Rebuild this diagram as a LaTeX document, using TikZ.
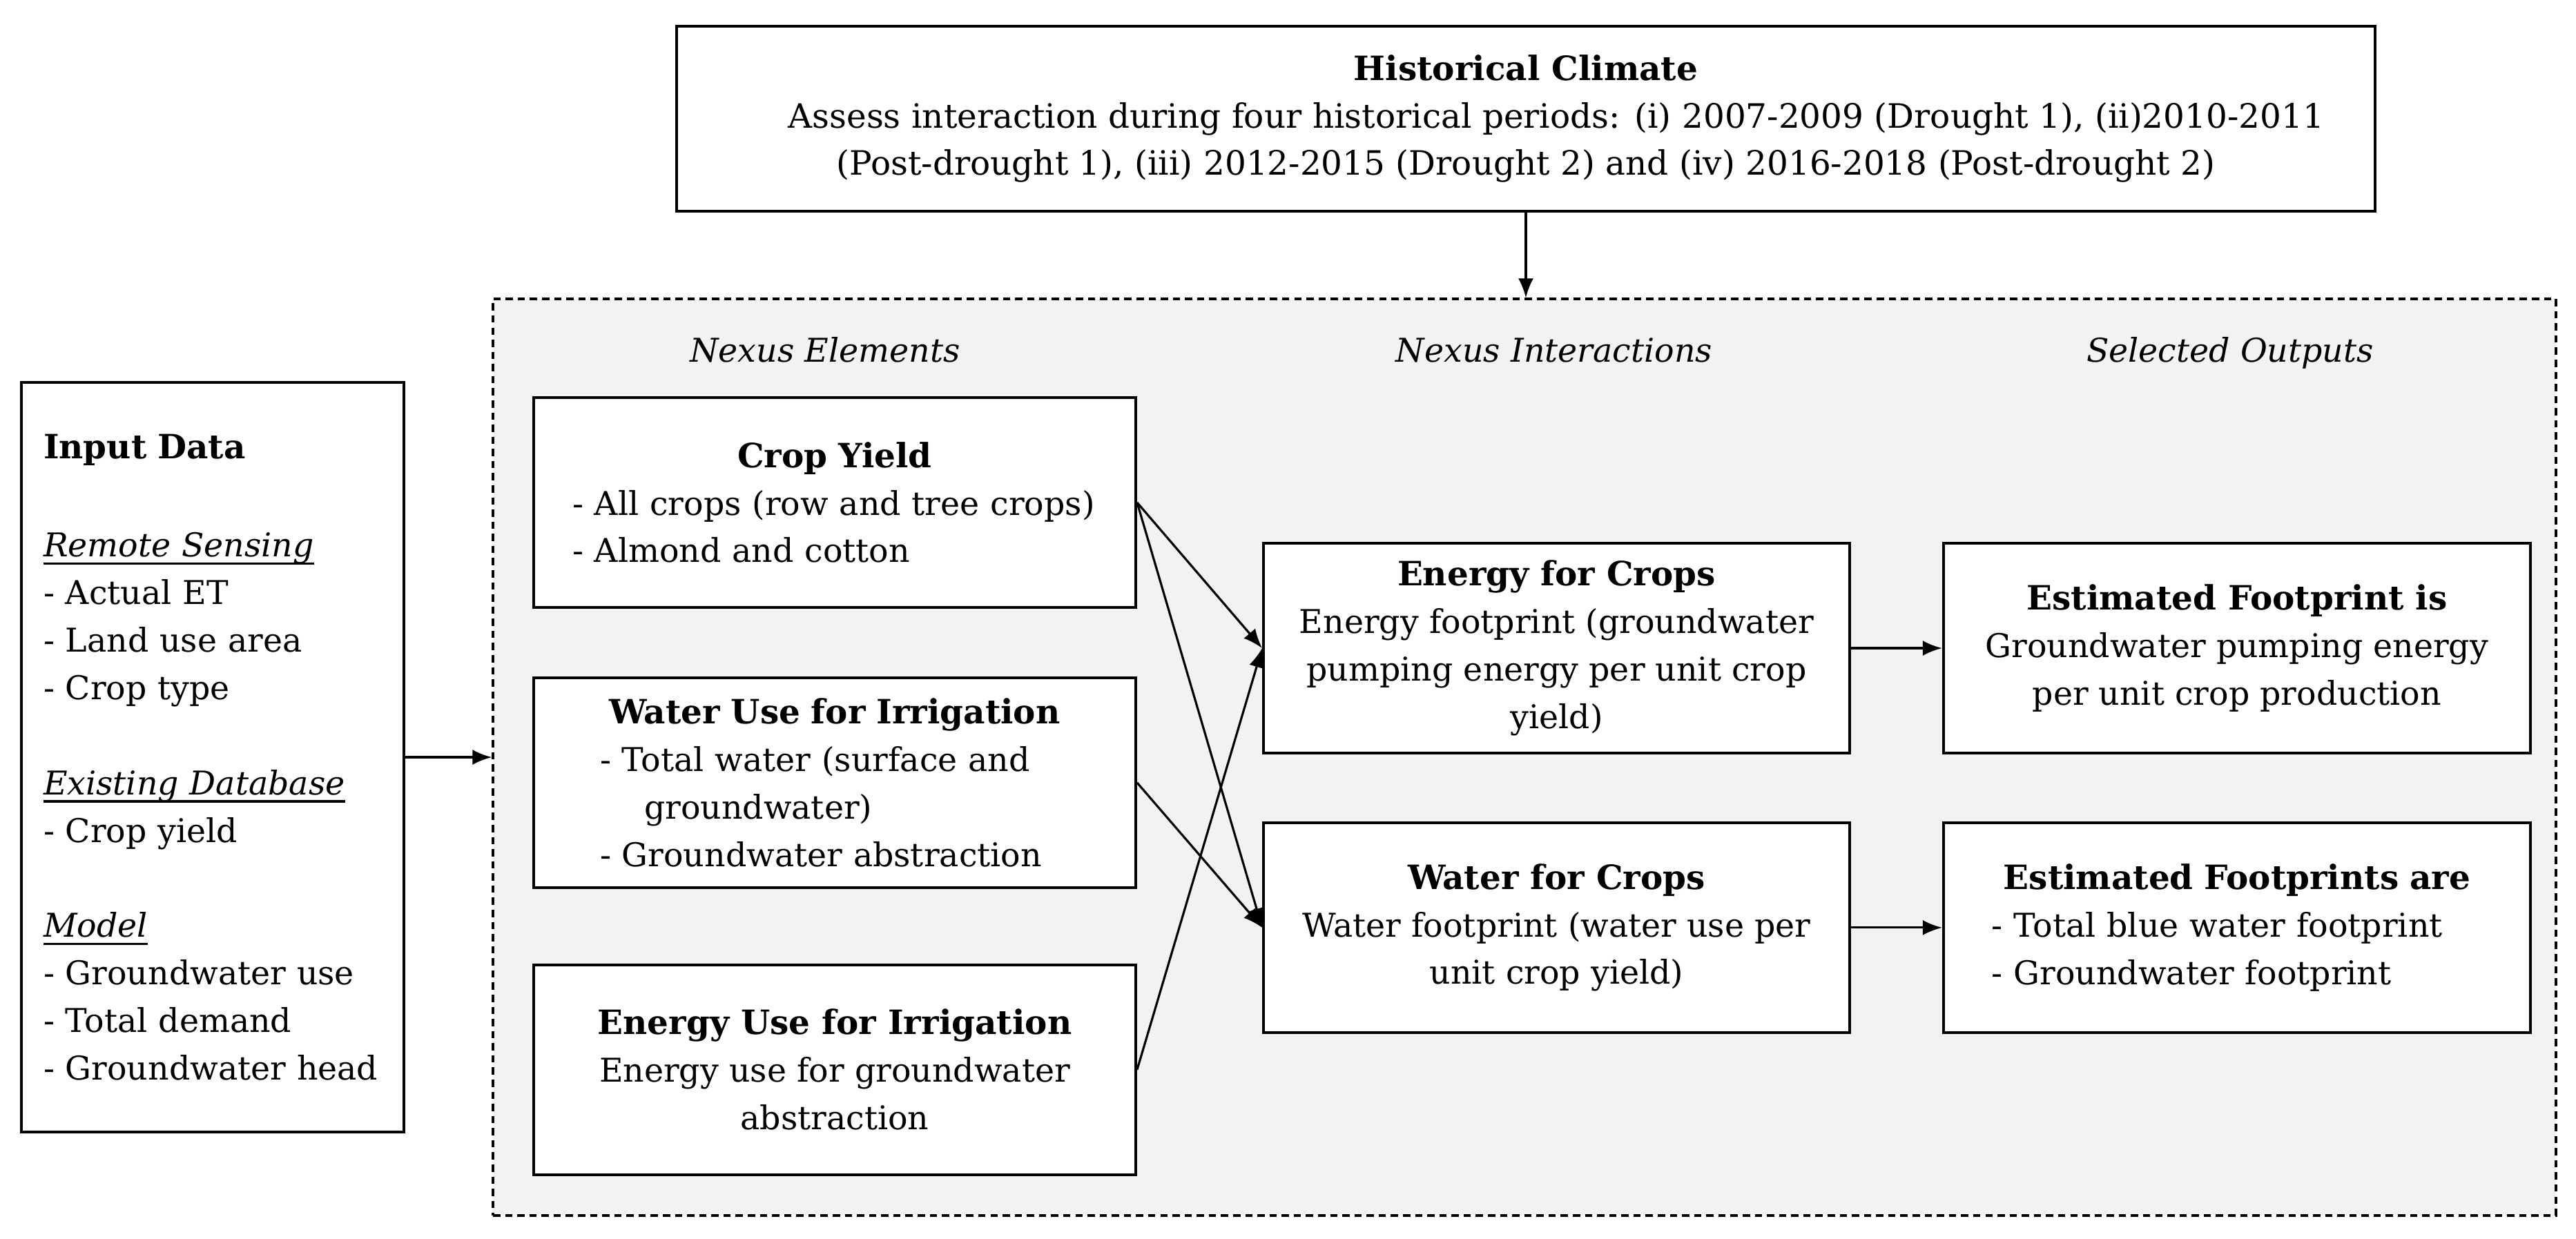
\documentclass[tikz,border=0pt]{standalone}
\usepackage{fontspec}
\setmainfont{DejaVu Serif}
\usetikzlibrary{arrows.meta,positioning}
\definecolor{panelgray}{RGB}{242,242,242}
\newcommand{\bodyfont}{\fontsize{13.5}{19.6}\selectfont}
\newcommand{\headfont}{\fontsize{13.8}{19.6}\selectfont\bfseries}
\newcommand{\paneltitle}[1]{\makebox[\linewidth]{\headfont #1}}
\newlength{\subheadwd}
\newcommand{\subhead}[1]{\settowidth{\subheadwd}{\textit{#1}}%
  \textit{#1}\hspace*{-\subheadwd}\rule[-3.2pt]{\subheadwd}{0.9pt}}

\begin{document}
\begin{tikzpicture}[
    every node/.style={font=\bodyfont},
    panel/.style={draw, line width=1.1pt, fill=white, inner sep=0pt,
        align=center, minimum height=3.04cm},
    element/.style={panel, minimum width=8.72cm},
    interaction/.style={panel, minimum width=8.49cm},
    output/.style={panel, minimum width=8.5cm},
    heading/.style={font=\bodyfont\itshape, anchor=base},
    link/.style={-{Latex[length=2.8mm,width=2.2mm]}, line width=0.9pt},
    node distance=0.98cm]

\useasboundingbox (0,0) rectangle (37.31,-17.94);

% frame of the nexus part
\node[draw, dash pattern=on 3pt off 2pt, line width=0.9pt, fill=panelgray,
      minimum width=29.88cm, minimum height=13.28cm] (nexus) at (22.08,-10.97) {};

\node[draw, line width=1.1pt, minimum width=24.6cm, minimum height=2.68cm,
      align=center, font=\fontsize{13.8}{19.6}\selectfont] (hist) at (22.10,-1.72)
    {{\headfont Historical Climate}\\
     \hspace*{0.88cm}Assess interaction during four historical periods: (i) 2007-2009 (Drought 1), (ii)2010-2011\\
     (Post-drought 1), (iii) 2012-2015 (Drought 2) and (iv) 2016-2018 (Post-drought 2)};

\node[draw, line width=1.1pt, minimum width=5.54cm, minimum height=10.86cm,
      text width=4.9cm, align=left, inner sep=0pt] (input) at (3.08,-10.97)
    {{\headfont Input Data}\\[21pt]
     \subhead{Remote Sensing}\\
     - Actual ET\\
     - Land use area\\
     - Crop type\\[19.6pt]
     \subhead{Existing Database}\\
     - Crop yield\\[19.6pt]
     \subhead{Model}\\
     - Groundwater use\\
     - Total demand\\
     - Groundwater head};

% column headings
\node[heading] (hdelem) at (11.95,-5.24) {Nexus Elements};
\node[heading] (hdinter) at (22.51,-5.24) {Nexus Interactions};
\node[heading] (hdout) at (32.30,-5.24) {Selected Outputs};

% nexus elements
\node[element, text width=7.6cm, align=left] (crop) at (12.09,-7.28)
    {\paneltitle{Crop Yield}\\
     - All crops (row and tree crops)\\
     - Almond and cotton};
\node[element, text width=6.8cm, align=left, below=of crop] (wateruse)
    {\paneltitle{Water Use for Irrigation}\\
     - Total water (surface and\\
     \hspace*{0.64cm}groundwater)\\
     - Groundwater abstraction};
\node[element, below=1.08cm of wateruse] (energyuse)
    {{\headfont Energy Use for Irrigation}\\
     Energy use for groundwater\\
     abstraction};

% nexus interactions
\node[interaction] (energycrops) at (22.545,-9.39)
    {{\headfont Energy for Crops}\\
     Energy footprint (groundwater\\
     pumping energy per unit crop\\
     yield)};
\node[interaction, below=0.97cm of energycrops] (watercrops)
    {{\headfont Water for Crops}\\
     Water footprint (water use per\\
     unit crop yield)};

% selected outputs
\node[output, right=1.32cm of energycrops] (fpenergy)
    {{\headfont Estimated Footprint is}\\
     Groundwater pumping energy\\
     per unit crop production};
\node[output, text width=7.1cm, align=left, right=1.32cm of watercrops] (fpwater)
    {\paneltitle{Estimated Footprints are}\\
     - Total blue water footprint\\
     - Groundwater footprint};

% connectors
\draw[link] (hist.south) -- (hist.south |- nexus.north);
\draw[link] (input.east) -- (input.east -| nexus.west);
\draw[link] (crop.east) -- (energycrops.west);
\draw[link] (crop.east) -- (watercrops.west);
\draw[link] (wateruse.east) -- (watercrops.west);
\draw[link] (energyuse.east) -- (energycrops.west);
\draw[link] (energycrops) -- (fpenergy);
\draw[link] (watercrops) -- (fpwater);

\end{tikzpicture}
\end{document}
